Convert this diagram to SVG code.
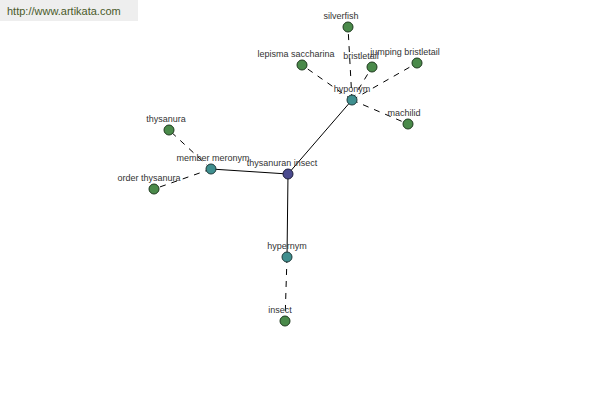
<svg xmlns="http://www.w3.org/2000/svg" width="600" height="400" viewBox="0 0 600 400">
<style>
text{font-family:"Liberation Sans",Arial,sans-serif;font-size:9px;fill:#333;text-anchor:middle}
.d{stroke:#000;stroke-width:1;stroke-dasharray:6,6;fill:none}
.s{stroke:#000;stroke-width:1;fill:none}
.leaf{fill:#4a8a4a;stroke:#1e3a1e;stroke-width:1}
.hub{fill:#3f8f8f;stroke:#1e3a3a;stroke-width:1}
.root{fill:#4b4b8f;stroke:#1e1e3a;stroke-width:1}
</style>
<rect width="600" height="400" fill="#fff"/>
<rect x="0" y="0" width="138" height="21" fill="#eeeeee"/>
<text x="7" y="15" style="text-anchor:start;font-size:11px;fill:#4a5a2a">http://www.artikata.com</text>
<g id="connectors">
<line class="s" x1="288" y1="174" x2="352" y2="100"/>
<line class="s" x1="288" y1="174" x2="211" y2="169"/>
<line class="s" x1="288" y1="174" x2="287" y2="257"/>
<line class="d" x1="352" y1="100" x2="348" y2="27"/>
<line class="d" x1="352" y1="100" x2="302" y2="65"/>
<line class="d" x1="352" y1="100" x2="372" y2="67"/>
<line class="d" x1="352" y1="100" x2="417" y2="63"/>
<line class="d" x1="352" y1="100" x2="408" y2="124"/>
<line class="d" x1="211" y1="169" x2="169" y2="130"/>
<line class="d" x1="211" y1="169" x2="154" y2="189"/>
<line class="d" x1="287" y1="257" x2="285" y2="321"/>
</g>
<g id="n-silverfish"><circle class="leaf" cx="348" cy="27" r="5"/><text x="341" y="19">silverfish</text></g>
<g id="n-lepisma"><circle class="leaf" cx="302" cy="65" r="5"/><text x="296" y="57">lepisma saccharina</text></g>
<g id="n-bristletail"><circle class="leaf" cx="372" cy="67" r="5"/><text x="361" y="59">bristletail</text></g>
<g id="n-jumping"><circle class="leaf" cx="417" cy="63" r="5"/><text x="405" y="55">jumping bristletail</text></g>
<g id="n-machilid"><circle class="leaf" cx="408" cy="124" r="5"/><text x="404" y="116">machilid</text></g>
<g id="n-hyponym"><circle class="hub" cx="352" cy="100" r="5"/><text x="352" y="92">hyponym</text></g>
<g id="n-thysanura"><circle class="leaf" cx="169" cy="130" r="5"/><text x="166" y="122">thysanura</text></g>
<g id="n-order"><circle class="leaf" cx="154" cy="189" r="5"/><text x="149" y="181">order thysanura</text></g>
<g id="n-meronym"><circle class="hub" cx="211" cy="169" r="5"/><text x="213" y="161">member meronym</text></g>
<g id="n-root"><circle class="root" cx="288" cy="174" r="5"/><text x="282" y="166">thysanuran insect</text></g>
<g id="n-hypernym"><circle class="hub" cx="287" cy="257" r="5"/><text x="287" y="249">hypernym</text></g>
<g id="n-insect"><circle class="leaf" cx="285" cy="321" r="5"/><text x="280" y="313">insect</text></g>
</svg>
